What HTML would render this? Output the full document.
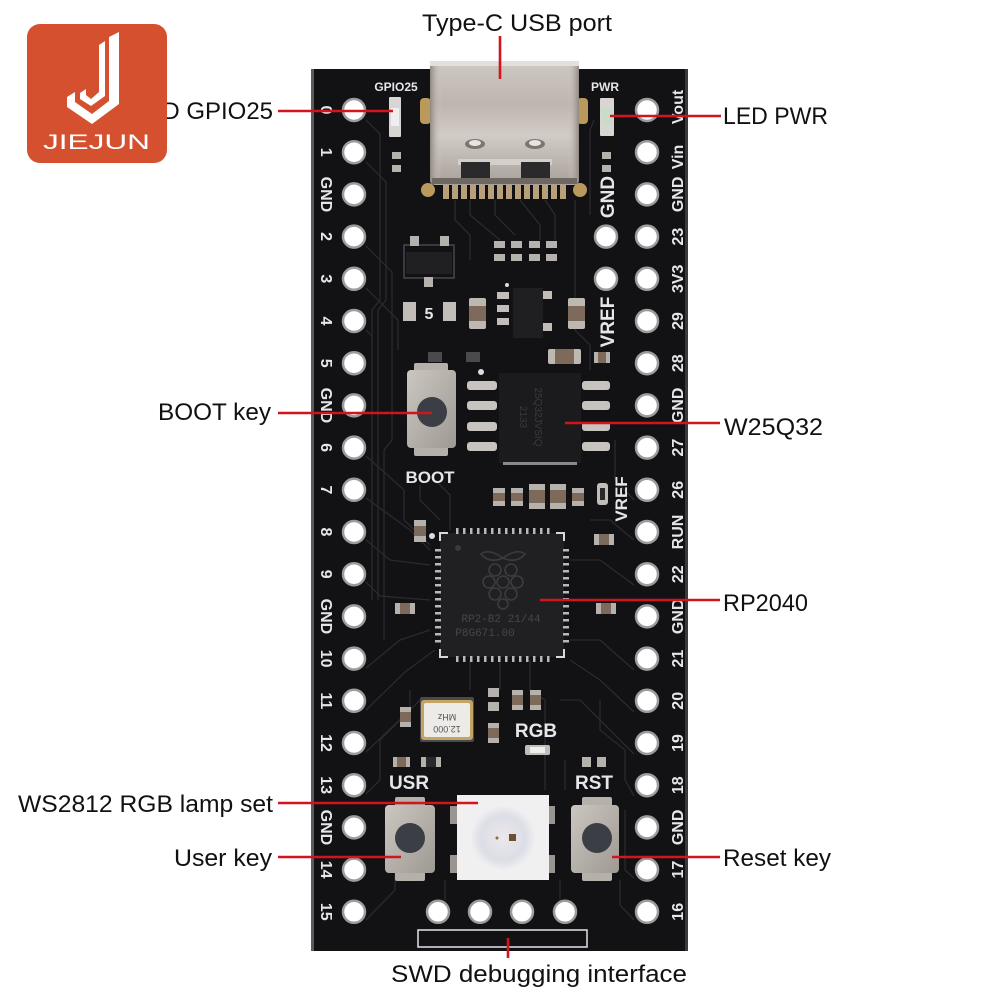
<!DOCTYPE html>
<html>
<head>
<meta charset="utf-8">
<style>
html,body{margin:0;padding:0;background:#fff;}
svg{display:block;}
.lbl{font-family:"Liberation Sans",sans-serif;font-size:24px;fill:#111;}
.pl{font-family:"Liberation Sans Narrow","Liberation Sans",sans-serif;font-weight:bold;font-size:16px;fill:#e4e6ea;}
.sl{font-family:"Liberation Sans Narrow","Liberation Sans",sans-serif;font-weight:bold;fill:#e4e6ea;}
.red{stroke:#d4141c;stroke-width:2.6;fill:none;}
.tr{stroke:#2a2a2f;stroke-width:1.3;fill:none;}
</style>
</head>
<body>
<svg width="1000" height="1000" viewBox="0 0 1000 1000" xmlns="http://www.w3.org/2000/svg">
<defs>
<linearGradient id="usb" x1="0" y1="0" x2="0" y2="1">
<stop offset="0" stop-color="#cfc9c3"/>
<stop offset="0.35" stop-color="#bdb5ae"/>
<stop offset="0.6" stop-color="#d2ccc6"/>
<stop offset="1" stop-color="#a8a09a"/>
</linearGradient>
<linearGradient id="usbh" x1="0" y1="0" x2="1" y2="0">
<stop offset="0" stop-color="#8e8780"/>
<stop offset="0.08" stop-color="#d8d2cc" stop-opacity="0"/>
<stop offset="0.92" stop-color="#d8d2cc" stop-opacity="0"/>
<stop offset="1" stop-color="#8e8780"/>
</linearGradient>
<linearGradient id="btn" x1="0" y1="0" x2="1" y2="1">
<stop offset="0" stop-color="#cbc6c0"/>
<stop offset="1" stop-color="#9f9993"/>
</linearGradient>
<radialGradient id="led" cx="0.5" cy="0.5" r="0.5">
<stop offset="0" stop-color="#ece8ec"/>
<stop offset="0.7" stop-color="#dcdde6"/>
<stop offset="1" stop-color="#efeff2"/>
</radialGradient>
</defs>

<!-- Board -->
<rect x="311" y="69" width="377" height="882" fill="#121214"/>
<rect x="311" y="69" width="3" height="882" fill="#5a5a5e"/>
<rect x="685" y="69" width="3" height="882" fill="#3a3a3e"/>

<!-- traces -->
<g class="tr">
<polyline points="366,120 380,134 380,300 372,310 372,600"/>
<polyline points="366,162 386,182 386,300 378,310 378,600"/>
<polyline points="366,246 392,272 392,440 384,450 384,640"/>
<polyline points="366,288 398,320 398,350"/>
<polyline points="366,330 372,336 372,345"/>
<polyline points="366,456 404,490 404,520 430,545"/>
<polyline points="366,498 410,530 430,550"/>
<polyline points="366,540 390,560 430,565"/>
<polyline points="366,582 380,596 430,600"/>
<polyline points="366,668 400,640 430,630"/>
<polyline points="366,710 405,672 435,650"/>
<polyline points="366,752 410,710 410,690"/>
<polyline points="366,794 380,780 380,740 420,700"/>
<polyline points="366,920 395,890 395,800"/>
<polyline points="634,500 615,480 615,440"/>
<polyline points="634,540 610,520 590,520"/>
<polyline points="634,585 600,560 570,560"/>
<polyline points="634,670 600,640 570,640"/>
<polyline points="634,712 600,680 570,660"/>
<polyline points="634,754 600,720 580,700 560,700"/>
<polyline points="634,796 625,780 625,750 600,730 600,700"/>
<polyline points="634,878 625,870 625,810"/>
<polyline points="634,920 620,905 620,880"/>
<polyline points="594,120 590,130 590,215"/>
<polyline points="455,200 455,220 470,235 470,260"/>
<polyline points="470,200 470,215 500,240"/>
<polyline points="495,200 495,215 515,235"/>
<polyline points="520,200 540,225 540,240"/>
<polyline points="545,200 555,215 555,240"/>
<polyline points="575,200 575,330 590,345 590,370"/>
<polyline points="435,480 450,495 450,530"/>
<polyline points="420,485 420,500 440,520"/>
<polyline points="470,660 470,690"/>
<polyline points="500,660 500,690"/>
<polyline points="530,660 530,690 545,700 545,790"/>
<polyline points="565,760 565,790"/>
<polyline points="445,880 445,900"/>
<polyline points="560,880 560,900"/>
</g>

<!-- USB-C connector -->
<rect x="420" y="98" width="11" height="26" rx="4" fill="#b99a5c"/>
<rect x="577" y="98" width="11" height="26" rx="4" fill="#b99a5c"/>
<circle cx="428" cy="190" r="7" fill="#b99a5c"/>
<circle cx="580" cy="190" r="7" fill="#b99a5c"/>
<g fill="#b8a07a">
<rect x="443" y="182" width="6" height="17"/><rect x="452" y="182" width="6" height="17"/><rect x="461" y="182" width="6" height="17"/><rect x="470" y="182" width="6" height="17"/><rect x="479" y="182" width="6" height="17"/><rect x="488" y="182" width="6" height="17"/><rect x="497" y="182" width="6" height="17"/><rect x="506" y="182" width="6" height="17"/><rect x="515" y="182" width="6" height="17"/><rect x="524" y="182" width="6" height="17"/><rect x="533" y="182" width="6" height="17"/><rect x="542" y="182" width="6" height="17"/><rect x="551" y="182" width="6" height="17"/><rect x="560" y="182" width="6" height="17"/>
</g>
<rect x="430" y="61" width="149" height="124" rx="5" fill="url(#usb)"/>
<rect x="430" y="61" width="149" height="124" rx="5" fill="url(#usbh)"/>
<rect x="430" y="61" width="149" height="5" fill="#e4dfda"/>
<ellipse cx="475" cy="144" rx="10" ry="5" fill="#7d7670"/>
<ellipse cx="475" cy="143" rx="6" ry="3" fill="#e8e4df"/>
<ellipse cx="535" cy="144" rx="10" ry="5" fill="#7d7670"/>
<ellipse cx="535" cy="143" rx="6" ry="3" fill="#e8e4df"/>
<rect x="458" y="159" width="94" height="6" fill="#d4cfca"/>
<path d="M461,162 h29 v18 h-29 z" fill="#2a2a2c"/>
<path d="M521,162 h29 v18 h-29 z" fill="#2a2a2c"/>
<rect x="432" y="178" width="145" height="6" fill="#6f6862"/>

<!-- LEDs -->
<text x="396" y="91" class="sl" font-size="12" text-anchor="middle">GPIO25</text>
<rect x="389" y="97" width="12" height="40" rx="1" fill="#d8d5d2"/>
<rect x="391" y="108" width="8" height="18" fill="#efefef"/>
<rect x="392" y="152" width="9" height="7" fill="#b5b1ad"/>
<rect x="392" y="165" width="9" height="7" fill="#b5b1ad"/>
<text x="605" y="91" class="sl" font-size="12" text-anchor="middle">PWR</text>
<rect x="600" y="98" width="14" height="38" rx="1" fill="#d8d5d2"/>
<rect x="602" y="108" width="10" height="17" fill="#c9dcc9"/>
<rect x="602" y="152" width="9" height="7" fill="#b5b1ad"/>
<rect x="602" y="165" width="9" height="7" fill="#b5b1ad"/>

<!-- SOT-23 regulator -->
<rect x="404" y="245" width="50" height="33" fill="none" stroke="#55555a" stroke-width="1.2"/>
<rect x="410" y="236" width="9" height="10" fill="#b5b1ad"/>
<rect x="440" y="236" width="9" height="10" fill="#b5b1ad"/>
<rect x="406" y="252" width="46" height="22" fill="#202022"/>
<rect x="424" y="277" width="9" height="10" fill="#b5b1ad"/>

<!-- 4 small resistor arrays -->
<g fill="#b5b1ad">
<rect x="494" y="241" width="11" height="7"/><rect x="494" y="254" width="11" height="7"/>
<rect x="511" y="241" width="11" height="7"/><rect x="511" y="254" width="11" height="7"/>
<rect x="529" y="241" width="11" height="7"/><rect x="529" y="254" width="11" height="7"/>
<rect x="546" y="241" width="11" height="7"/><rect x="546" y="254" width="11" height="7"/>
</g>

<!-- "5" component -->
<rect x="403" y="302" width="13" height="19" fill="#c2bdb8"/>
<rect x="443" y="302" width="13" height="19" fill="#c2bdb8"/>
<text x="429" y="319" class="sl" font-size="16" text-anchor="middle" font-weight="normal">5</text>

<!-- caps near chip -->
<rect x="469" y="298" width="17" height="31" rx="2" fill="#bdb8b2"/>
<rect x="469" y="306" width="17" height="15" fill="#7d6a5a"/>
<rect x="568" y="298" width="17" height="31" rx="2" fill="#bdb8b2"/>
<rect x="568" y="306" width="17" height="15" fill="#7d6a5a"/>
<!-- SOT chip -->
<rect x="497" y="292" width="12" height="7" fill="#c2bdb8"/>
<rect x="497" y="305" width="12" height="7" fill="#c2bdb8"/>
<rect x="497" y="318" width="12" height="7" fill="#c2bdb8"/>
<rect x="540" y="291" width="12" height="8" fill="#c2bdb8"/>
<rect x="540" y="323" width="12" height="8" fill="#c2bdb8"/>
<rect x="513" y="288" width="30" height="50" fill="#1f1f21"/>
<circle cx="507" cy="285" r="2" fill="#ddd"/>
<!-- misc small -->
<rect x="548" y="349" width="33" height="15" rx="2" fill="#bdb8b2"/>
<rect x="555" y="349" width="19" height="15" fill="#7d6a5a"/>
<rect x="594" y="352" width="16" height="11" fill="#b5b1ad"/>
<rect x="598" y="352" width="8" height="11" fill="#7d6a5a"/>
<rect x="428" y="352" width="14" height="10" fill="#4a4a4c"/>
<rect x="466" y="352" width="14" height="10" fill="#4a4a4c"/>
<circle cx="481" cy="372" r="3" fill="#ddd"/>

<!-- BOOT button -->
<rect x="414" y="363" width="34" height="10" rx="2" fill="#b5b0aa"/>
<rect x="414" y="446" width="34" height="10" rx="2" fill="#b5b0aa"/>
<rect x="407" y="370" width="49" height="78" rx="4" fill="url(#btn)"/>
<circle cx="432" cy="412" r="15" fill="#3b3e44"/>
<text x="430" y="483" class="sl" font-size="17" text-anchor="middle">BOOT</text>

<!-- Flash W25Q32 -->
<g fill="#c7c3bf">
<rect x="467" y="381" width="30" height="9" rx="3"/><rect x="467" y="401" width="30" height="9" rx="3"/><rect x="467" y="422" width="30" height="9" rx="3"/><rect x="467" y="442" width="30" height="9" rx="3"/>
<rect x="582" y="381" width="28" height="9" rx="3"/><rect x="582" y="401" width="28" height="9" rx="3"/><rect x="582" y="422" width="28" height="9" rx="3"/><rect x="582" y="442" width="28" height="9" rx="3"/>
</g>
<rect x="499" y="373" width="82" height="90" fill="#1b1b1d"/>
<rect x="503" y="462" width="74" height="3" fill="#8a8a8e"/>
<text transform="translate(520,417) rotate(90)" text-anchor="middle" font-family="Liberation Sans" font-size="10" fill="#3a3a3d">2133</text>
<text transform="translate(535,417) rotate(90)" text-anchor="middle" font-family="Liberation Sans" font-size="10" fill="#3a3a3d">25Q32JVSIQ</text>

<!-- passives above RP2040 -->
<g>
<rect x="493" y="488" width="12" height="18" fill="#b5b1ad"/><rect x="493" y="493" width="12" height="8" fill="#7d6a5a"/>
<rect x="511" y="488" width="12" height="18" fill="#b5b1ad"/><rect x="511" y="493" width="12" height="8" fill="#7d6a5a"/>
<rect x="529" y="484" width="16" height="25" fill="#b5b1ad"/><rect x="529" y="490" width="16" height="13" fill="#7d6a5a"/>
<rect x="550" y="484" width="16" height="25" fill="#b5b1ad"/><rect x="550" y="490" width="16" height="13" fill="#7d6a5a"/>
<rect x="572" y="488" width="12" height="18" fill="#b5b1ad"/><rect x="572" y="493" width="12" height="8" fill="#7d6a5a"/>
<rect x="597" y="483" width="11" height="22" rx="3" fill="#c2bdb8"/><rect x="600" y="488" width="5" height="12" fill="#2a2a2c"/>
<rect x="414" y="520" width="12" height="22" fill="#b5b1ad"/><rect x="414" y="526" width="12" height="10" fill="#7d6a5a"/>
<circle cx="432" cy="536" r="3" fill="#ddd"/>
<rect x="395" y="603" width="20" height="11" fill="#b5b1ad"/><rect x="400" y="603" width="10" height="11" fill="#7d6a5a"/>
<rect x="596" y="603" width="20" height="11" fill="#b5b1ad"/><rect x="601" y="603" width="10" height="11" fill="#7d6a5a"/>
<rect x="594" y="534" width="20" height="11" fill="#b5b1ad"/><rect x="599" y="534" width="10" height="11" fill="#7d6a5a"/>
</g>

<!-- RP2040 -->
<rect x="440" y="533" width="124" height="124" fill="#202022"/>
<g fill="#b8b8bc">
<rect x="456" y="528" width="2.5" height="6"/><rect x="463" y="528" width="2.5" height="6"/><rect x="470" y="528" width="2.5" height="6"/><rect x="477" y="528" width="2.5" height="6"/><rect x="484" y="528" width="2.5" height="6"/><rect x="491" y="528" width="2.5" height="6"/><rect x="498" y="528" width="2.5" height="6"/><rect x="505" y="528" width="2.5" height="6"/><rect x="512" y="528" width="2.5" height="6"/><rect x="519" y="528" width="2.5" height="6"/><rect x="526" y="528" width="2.5" height="6"/><rect x="533" y="528" width="2.5" height="6"/><rect x="540" y="528" width="2.5" height="6"/><rect x="547" y="528" width="2.5" height="6"/>
<rect x="456" y="656" width="2.5" height="6"/><rect x="463" y="656" width="2.5" height="6"/><rect x="470" y="656" width="2.5" height="6"/><rect x="477" y="656" width="2.5" height="6"/><rect x="484" y="656" width="2.5" height="6"/><rect x="491" y="656" width="2.5" height="6"/><rect x="498" y="656" width="2.5" height="6"/><rect x="505" y="656" width="2.5" height="6"/><rect x="512" y="656" width="2.5" height="6"/><rect x="519" y="656" width="2.5" height="6"/><rect x="526" y="656" width="2.5" height="6"/><rect x="533" y="656" width="2.5" height="6"/><rect x="540" y="656" width="2.5" height="6"/><rect x="547" y="656" width="2.5" height="6"/>
<rect x="435" y="549" width="6" height="2.5"/><rect x="435" y="556" width="6" height="2.5"/><rect x="435" y="563" width="6" height="2.5"/><rect x="435" y="570" width="6" height="2.5"/><rect x="435" y="577" width="6" height="2.5"/><rect x="435" y="584" width="6" height="2.5"/><rect x="435" y="591" width="6" height="2.5"/><rect x="435" y="598" width="6" height="2.5"/><rect x="435" y="605" width="6" height="2.5"/><rect x="435" y="612" width="6" height="2.5"/><rect x="435" y="619" width="6" height="2.5"/><rect x="435" y="626" width="6" height="2.5"/><rect x="435" y="633" width="6" height="2.5"/><rect x="435" y="640" width="6" height="2.5"/>
<rect x="563" y="549" width="6" height="2.5"/><rect x="563" y="556" width="6" height="2.5"/><rect x="563" y="563" width="6" height="2.5"/><rect x="563" y="570" width="6" height="2.5"/><rect x="563" y="577" width="6" height="2.5"/><rect x="563" y="584" width="6" height="2.5"/><rect x="563" y="591" width="6" height="2.5"/><rect x="563" y="598" width="6" height="2.5"/><rect x="563" y="605" width="6" height="2.5"/><rect x="563" y="612" width="6" height="2.5"/><rect x="563" y="619" width="6" height="2.5"/><rect x="563" y="626" width="6" height="2.5"/><rect x="563" y="633" width="6" height="2.5"/><rect x="563" y="640" width="6" height="2.5"/>
</g>
<g stroke="#d8d8dc" stroke-width="2" fill="none">
<polyline points="440,541 440,533 448,533"/>
<polyline points="556,533 564,533 564,541"/>
<polyline points="440,649 440,657 448,657"/>
<polyline points="556,657 564,657 564,649"/>
</g>
<circle cx="458" cy="548" r="3" fill="#3a3a3c"/>
<g stroke="#3c3c3f" stroke-width="1.6" fill="none">
<path d="M503,558 q-14,-10 -22,-4 q8,10 22,4 q14,-10 22,-4 q-8,10 -22,4"/>
<circle cx="495" cy="570" r="6"/><circle cx="511" cy="570" r="6"/>
<circle cx="489" cy="582" r="6"/><circle cx="503" cy="582" r="6"/><circle cx="517" cy="582" r="6"/>
<circle cx="495" cy="594" r="6"/><circle cx="511" cy="594" r="6"/>
<circle cx="503" cy="604" r="5"/>
</g>
<text x="501" y="622" text-anchor="middle" font-family="Liberation Mono" font-size="11" fill="#46464a">RP2-B2  21/44</text>
<text x="485" y="636" text-anchor="middle" font-family="Liberation Mono" font-size="11" fill="#46464a">P8G671.00</text>

<!-- crystal + small parts -->
<rect x="420" y="697" width="54" height="45" rx="2" fill="#4a4a4c"/>
<rect x="421" y="700" width="52" height="40" rx="3" fill="#c4a464"/>
<rect x="424" y="703" width="46" height="34" rx="2" fill="#ecebe8"/>
<text transform="translate(447,714) rotate(180)" text-anchor="middle" font-family="Liberation Sans" font-size="9" fill="#555">MHz</text>
<text transform="translate(447,726) rotate(180)" text-anchor="middle" font-family="Liberation Sans" font-size="9" fill="#555">12.000</text>
<g>
<rect x="400" y="707" width="11" height="20" fill="#b5b1ad"/><rect x="400" y="712" width="11" height="10" fill="#7d6a5a"/>
<rect x="488" y="688" width="11" height="9" fill="#b5b1ad"/><rect x="488" y="702" width="11" height="9" fill="#b5b1ad"/>
<rect x="488" y="723" width="11" height="20" fill="#b5b1ad"/><rect x="488" y="728" width="11" height="10" fill="#7d6a5a"/>
<rect x="512" y="690" width="11" height="20" fill="#b5b1ad"/><rect x="512" y="695" width="11" height="10" fill="#7d6a5a"/>
<rect x="530" y="690" width="11" height="20" fill="#b5b1ad"/><rect x="530" y="695" width="11" height="10" fill="#7d6a5a"/>
<rect x="525" y="745" width="25" height="10" rx="2" fill="#c2bdb8"/><rect x="530" y="747" width="15" height="6" fill="#eee"/>
<rect x="393" y="757" width="17" height="10" fill="#b5b1ad"/><rect x="397" y="757" width="9" height="10" fill="#7d6a5a"/>
<rect x="421" y="757" width="20" height="10" fill="#b5b1ad"/><rect x="426" y="757" width="10" height="10" fill="#2a2a2c"/>
<rect x="582" y="757" width="9" height="10" fill="#b5b1ad"/><rect x="597" y="757" width="9" height="10" fill="#b5b1ad"/>
</g>
<text x="536" y="737" class="sl" font-size="19" text-anchor="middle">RGB</text>
<text x="409" y="789" class="sl" font-size="19" text-anchor="middle">USR</text>
<text x="594" y="789" class="sl" font-size="19" text-anchor="middle">RST</text>

<!-- USR button -->
<rect x="395" y="797" width="30" height="11" rx="2" fill="#b5b0aa"/>
<rect x="395" y="870" width="30" height="11" rx="2" fill="#b5b0aa"/>
<rect x="385" y="805" width="50" height="68" rx="4" fill="url(#btn)"/>
<circle cx="410" cy="838" r="15" fill="#3b3e44"/>
<!-- RST button -->
<rect x="582" y="797" width="30" height="11" rx="2" fill="#b5b0aa"/>
<rect x="582" y="870" width="30" height="11" rx="2" fill="#b5b0aa"/>
<rect x="571" y="805" width="48" height="68" rx="4" fill="url(#btn)"/>
<circle cx="597" cy="838" r="15" fill="#3b3e44"/>
<!-- WS2812 -->
<rect x="450" y="806" width="10" height="18" fill="#9a9590"/>
<rect x="545" y="806" width="10" height="18" fill="#9a9590"/>
<rect x="450" y="855" width="10" height="18" fill="#9a9590"/>
<rect x="545" y="855" width="10" height="18" fill="#9a9590"/>
<rect x="457" y="795" width="92" height="85" fill="#f1f0f0"/>
<circle cx="503" cy="838" r="32" fill="url(#led)"/>
<rect x="509" y="834" width="7" height="7" fill="#6b4f2e"/>
<circle cx="497" cy="838" r="1.5" fill="#8a6a3a"/>

<!-- SWD box -->
<rect x="418" y="930" width="169" height="17" fill="none" stroke="#d8d8dc" stroke-width="1.6"/>

<!-- Pins -->
<g fill="#ffffff" stroke="#9c9c9e" stroke-width="2.5">
<circle cx="354" cy="110" r="11"/><circle cx="354" cy="152.2" r="11"/><circle cx="354" cy="194.4" r="11"/><circle cx="354" cy="236.6" r="11"/><circle cx="354" cy="278.8" r="11"/><circle cx="354" cy="321" r="11"/><circle cx="354" cy="363.2" r="11"/><circle cx="354" cy="405.4" r="11"/><circle cx="354" cy="447.6" r="11"/><circle cx="354" cy="489.8" r="11"/><circle cx="354" cy="532" r="11"/><circle cx="354" cy="574.2" r="11"/><circle cx="354" cy="616.4" r="11"/><circle cx="354" cy="658.6" r="11"/><circle cx="354" cy="700.8" r="11"/><circle cx="354" cy="743" r="11"/><circle cx="354" cy="785.2" r="11"/><circle cx="354" cy="827.4" r="11"/><circle cx="354" cy="869.6" r="11"/><circle cx="354" cy="911.8" r="11"/>
<circle cx="647" cy="110" r="11"/><circle cx="647" cy="152.2" r="11"/><circle cx="647" cy="194.4" r="11"/><circle cx="647" cy="236.6" r="11"/><circle cx="647" cy="278.8" r="11"/><circle cx="647" cy="321" r="11"/><circle cx="647" cy="363.2" r="11"/><circle cx="647" cy="405.4" r="11"/><circle cx="647" cy="447.6" r="11"/><circle cx="647" cy="489.8" r="11"/><circle cx="647" cy="532" r="11"/><circle cx="647" cy="574.2" r="11"/><circle cx="647" cy="616.4" r="11"/><circle cx="647" cy="658.6" r="11"/><circle cx="647" cy="700.8" r="11"/><circle cx="647" cy="743" r="11"/><circle cx="647" cy="785.2" r="11"/><circle cx="647" cy="827.4" r="11"/><circle cx="647" cy="869.6" r="11"/><circle cx="647" cy="911.8" r="11"/>
<circle cx="606" cy="236.6" r="11"/><circle cx="606" cy="278.8" r="11"/>
<circle cx="438" cy="911.8" r="11"/><circle cx="480" cy="911.8" r="11"/><circle cx="522" cy="911.8" r="11"/><circle cx="565" cy="911.8" r="11"/>
</g>

<!-- Left pin labels (rotated 90) -->
<g class="pl" text-anchor="middle">
<text transform="translate(327,110) rotate(90)" dy="0.36em">0</text>
<text transform="translate(327,152.2) rotate(90)" dy="0.36em">1</text>
<text transform="translate(327,194.4) rotate(90)" dy="0.36em">GND</text>
<text transform="translate(327,236.6) rotate(90)" dy="0.36em">2</text>
<text transform="translate(327,278.8) rotate(90)" dy="0.36em">3</text>
<text transform="translate(327,321) rotate(90)" dy="0.36em">4</text>
<text transform="translate(327,363.2) rotate(90)" dy="0.36em">5</text>
<text transform="translate(327,405.4) rotate(90)" dy="0.36em">GND</text>
<text transform="translate(327,447.6) rotate(90)" dy="0.36em">6</text>
<text transform="translate(327,489.8) rotate(90)" dy="0.36em">7</text>
<text transform="translate(327,532) rotate(90)" dy="0.36em">8</text>
<text transform="translate(327,574.2) rotate(90)" dy="0.36em">9</text>
<text transform="translate(327,616.4) rotate(90)" dy="0.36em">GND</text>
<text transform="translate(327,658.6) rotate(90)" dy="0.36em">10</text>
<text transform="translate(327,700.8) rotate(90)" dy="0.36em">11</text>
<text transform="translate(327,743) rotate(90)" dy="0.36em">12</text>
<text transform="translate(327,785.2) rotate(90)" dy="0.36em">13</text>
<text transform="translate(327,827.4) rotate(90)" dy="0.36em">GND</text>
<text transform="translate(327,869.6) rotate(90)" dy="0.36em">14</text>
<text transform="translate(327,911.8) rotate(90)" dy="0.36em">15</text>
</g>
<!-- Right pin labels (rotated -90) -->
<g class="pl" text-anchor="middle">
<text transform="translate(677,107) rotate(-90)" dy="0.36em">Vout</text>
<text transform="translate(677,157) rotate(-90)" dy="0.36em">Vin</text>
<text transform="translate(677,194.4) rotate(-90)" dy="0.36em">GND</text>
<text transform="translate(677,236.6) rotate(-90)" dy="0.36em">23</text>
<text transform="translate(677,278.8) rotate(-90)" dy="0.36em">3V3</text>
<text transform="translate(677,321) rotate(-90)" dy="0.36em">29</text>
<text transform="translate(677,363.2) rotate(-90)" dy="0.36em">28</text>
<text transform="translate(677,405.4) rotate(-90)" dy="0.36em">GND</text>
<text transform="translate(677,447.6) rotate(-90)" dy="0.36em">27</text>
<text transform="translate(677,489.8) rotate(-90)" dy="0.36em">26</text>
<text transform="translate(677,532) rotate(-90)" dy="0.36em">RUN</text>
<text transform="translate(677,574.2) rotate(-90)" dy="0.36em">22</text>
<text transform="translate(677,616.4) rotate(-90)" dy="0.36em">GND</text>
<text transform="translate(677,658.6) rotate(-90)" dy="0.36em">21</text>
<text transform="translate(677,700.8) rotate(-90)" dy="0.36em">20</text>
<text transform="translate(677,743) rotate(-90)" dy="0.36em">19</text>
<text transform="translate(677,785.2) rotate(-90)" dy="0.36em">18</text>
<text transform="translate(677,827.4) rotate(-90)" dy="0.36em">GND</text>
<text transform="translate(677,869.6) rotate(-90)" dy="0.36em">17</text>
<text transform="translate(677,911.8) rotate(-90)" dy="0.36em">16</text>
<text transform="translate(607,197) rotate(-90)" dy="0.36em" font-size="19">GND</text>
<text transform="translate(607,322) rotate(-90)" dy="0.36em" font-size="19">VREF</text>
<text transform="translate(621,499) rotate(-90)" dy="0.36em" font-size="17">VREF</text>
</g>

<!-- Callout labels -->
<text class="lbl" x="422" y="31" textLength="190" lengthAdjust="spacingAndGlyphs">Type-C USB port</text>
<text class="lbl" x="133" y="119" textLength="140" lengthAdjust="spacingAndGlyphs">LED GPIO25</text>
<text class="lbl" x="723" y="124" textLength="105" lengthAdjust="spacingAndGlyphs">LED PWR</text>
<text class="lbl" x="158" y="420" textLength="113" lengthAdjust="spacingAndGlyphs">BOOT key</text>
<text class="lbl" x="724" y="435" textLength="99" lengthAdjust="spacingAndGlyphs">W25Q32</text>
<text class="lbl" x="723" y="611" textLength="85" lengthAdjust="spacingAndGlyphs">RP2040</text>
<text class="lbl" x="18" y="812" textLength="255" lengthAdjust="spacingAndGlyphs">WS2812 RGB lamp set</text>
<text class="lbl" x="174" y="866" textLength="98" lengthAdjust="spacingAndGlyphs">User key</text>
<text class="lbl" x="723" y="866" textLength="108" lengthAdjust="spacingAndGlyphs">Reset key</text>
<text class="lbl" x="391" y="982" textLength="296" lengthAdjust="spacingAndGlyphs">SWD debugging interface</text>

<!-- Red leader lines -->
<line class="red" x1="500" y1="36" x2="500" y2="79"/>
<line class="red" x1="278" y1="111" x2="393" y2="111"/>
<line class="red" x1="610" y1="116" x2="721" y2="116"/>
<line class="red" x1="278" y1="413" x2="432" y2="413"/>
<line class="red" x1="565" y1="423" x2="720" y2="423"/>
<line class="red" x1="540" y1="600" x2="720" y2="600"/>
<line class="red" x1="278" y1="803" x2="478" y2="803"/>
<line class="red" x1="278" y1="857" x2="401" y2="857"/>
<line class="red" x1="612" y1="857" x2="720" y2="857"/>
<line class="red" x1="508" y1="938" x2="508" y2="958"/>

<!-- Logo -->
<rect x="27" y="24" width="140" height="139" rx="13" fill="#d4502f"/>
<polygon points="109,37 119,32 119,104 92,124 67,107 67,97 75,92 75,102 92,114 109,101" fill="#ffffff"/>
<polygon points="99,45 105,41 105,96 91,106 80,99 80,93 86,89 86,95 91,99 99,92" fill="#ffffff"/>
<text x="43" y="149" font-family="Liberation Sans" font-size="21" fill="#ffffff" textLength="107" lengthAdjust="spacingAndGlyphs">JIEJUN</text>
</svg>
</body>
</html>
